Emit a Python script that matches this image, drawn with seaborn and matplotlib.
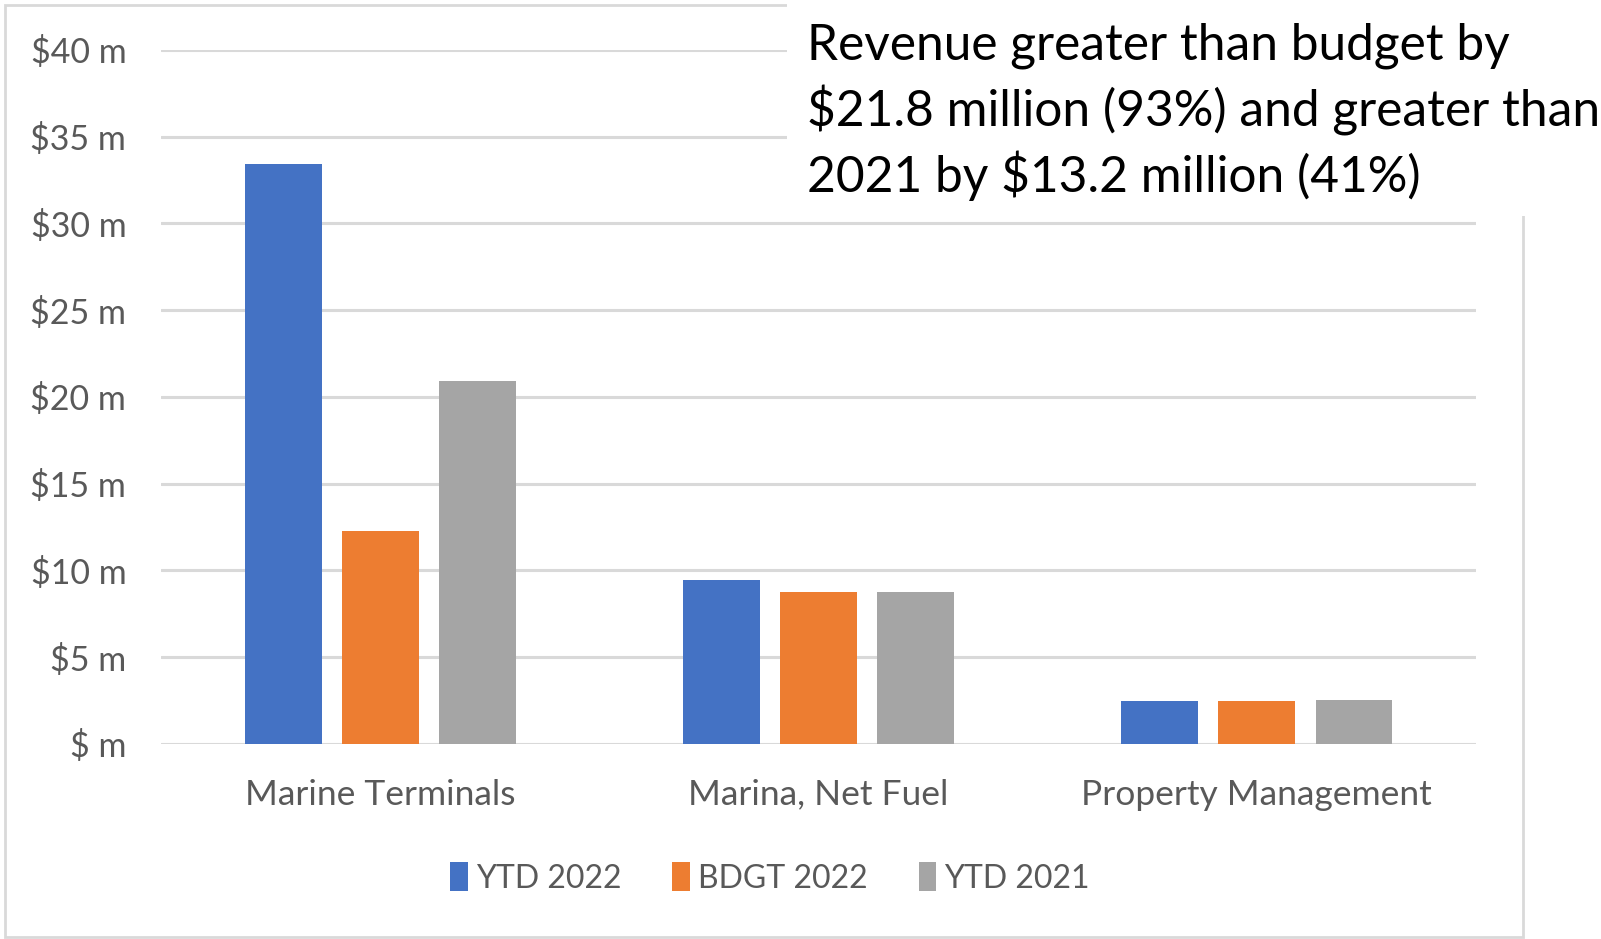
import matplotlib
matplotlib.use("Agg")
import matplotlib.pyplot as plt
from matplotlib.patches import Rectangle
import pandas as pd
import seaborn as sns

# Revenue by segment, $ millions
SEGMENTS = ["Marine Terminals", "Marina, Net Fuel", "Property Management"]
YTD_2022 = [33.4, 9.47, 2.48]
BDGT_2022 = [12.3, 8.78, 2.46]
YTD_2021 = [20.9, 8.74, 2.54]
SERIES = ["YTD 2022", "BDGT 2022", "YTD 2021"]
COLORS = ["#4472C4", "#ED7D31", "#A5A5A5"]
Y_TICKS = [0, 5, 10, 15, 20, 25, 30, 35, 40]
Y_TICK_LABELS = ["$ m", "$5 m", "$10 m", "$15 m", "$20 m", "$25 m", "$30 m", "$35 m", "$40 m"]
NOTE = ("Revenue greater than budget by\n"
        "$21.8 million (93%) and greater than\n"
        "2021 by $13.2 million (41%)")

df = pd.DataFrame({
    "Segment": SEGMENTS * 3,
    "Series": [s for s in SERIES for _ in SEGMENTS],
    "Revenue": YTD_2022 + BDGT_2022 + YTD_2021,
})

sns.set_theme(style="white")
plt.rcParams["font.family"] = ["Lato", "DejaVu Sans"]

fig = plt.figure(figsize=(16.01, 9.39), dpi=100)
ax = fig.add_axes([0.1006, 0.2077, 0.8213, 0.7391])

sns.barplot(data=df, x="Segment", y="Revenue", hue="Series", order=SEGMENTS,
            hue_order=SERIES, palette=COLORS, width=0.664, gap=0.21,
            linewidth=0, saturation=1, ax=ax, zorder=3)

ax.set_ylim(0, 40)
ax.set_yticks(Y_TICKS)
ax.set_yticklabels(Y_TICK_LABELS)
ax.set_xlim(-0.5, 2.5)
ax.yaxis.grid(True, color="#D9D9D9", linewidth=2.2, zorder=0)
ax.set_axisbelow(True)
for s in ax.spines.values():
    s.set_visible(False)
ax.tick_params(axis="y", length=0, pad=25, labelsize=24.5, labelcolor="#595959")
ax.tick_params(axis="x", length=0, pad=25, labelsize=25.5, labelcolor="#595959")
ax.set_xlabel("")
ax.set_ylabel("")

sns.move_legend(ax, "center", bbox_to_anchor=(0.481, 0.065),
                bbox_transform=fig.transFigure, ncol=3, frameon=False,
                title=None, fontsize=23, handlelength=0.55, handleheight=1.0,
                handletextpad=0.25, columnspacing=1.6)
for t in ax.get_legend().get_texts():
    t.set_color("#595959")

# chart area border, then the white note box on top of it
fig.add_artist(Rectangle((5 / 1601, 2 / 939), 1518 / 1601, 932 / 939,
                         transform=fig.transFigure, fill=False,
                         edgecolor="#D9D9D9", linewidth=2, zorder=4))
fig.add_artist(Rectangle((787 / 1601, 1 - 216 / 939), 814 / 1601, 216 / 939,
                         transform=fig.transFigure, facecolor="white",
                         edgecolor="none", zorder=5))
fig.text(807 / 1601, 1 - 112 / 939, NOTE, ha="left", va="center", fontsize=35.7,
         color="black", linespacing=1.37, zorder=6)

fig.savefig("out.png", dpi=100)
